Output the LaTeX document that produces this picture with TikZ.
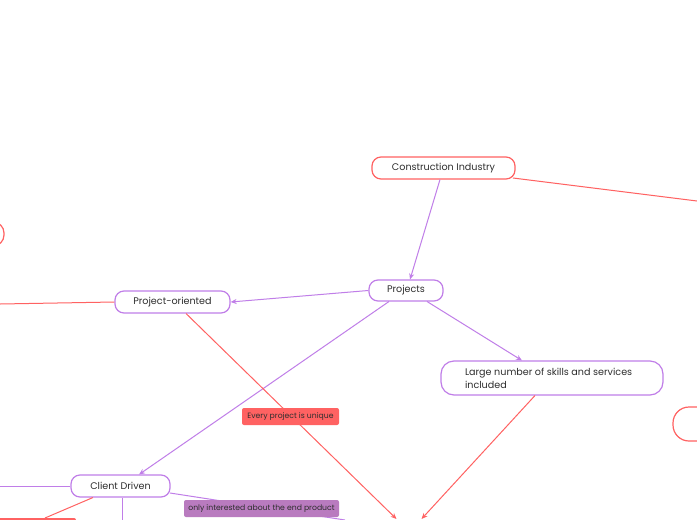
\documentclass[tikz,border=0pt]{standalone}
\usepackage{fontspec}
\setmainfont{Poppins}
\usetikzlibrary{arrows.meta}
\definecolor{redc}{HTML}{FF6262}
\definecolor{purc}{HTML}{C07EE8}
\definecolor{labpur}{HTML}{B97BBF}
\definecolor{txt}{HTML}{2E2E2E}
\tikzset{
  topic/.style={draw=#1, line width=1.2pt, rounded corners=9pt, fill=white, text=txt,
    font=\fontsize{9.6}{13}\selectfont, inner sep=0pt, anchor=center},
  lab/.style={fill=#1, rounded corners=2pt, text=txt, font=\fontsize{7.7}{9}\selectfont,
    inner sep=0pt, minimum height=17pt},
  link/.style={draw=#1, line width=1pt},
  arr/.style={draw=#1, line width=1pt, -{Stealth[length=6pt,width=5pt]}},
}
\newcommand{\dn}[1]{\raisebox{-1.2pt}{#1}}
\begin{document}
\begin{tikzpicture}[x=1pt,y=-1pt]
\useasboundingbox (0,0) rectangle (697,520);
\clip (0,0) rectangle (697,520);
\fill[white] (0,0) rectangle (697,520);
% off-image / partial elements
\node[topic=redc, minimum width=40pt, minimum height=24pt, rounded corners=11pt] (leftn) at (-16,234) {};
\node[topic=redc, minimum width=80pt, minimum height=34pt, rounded corners=16pt] (rightn) at (713,424) {};
\node[fill=redc, minimum width=80pt, minimum height=10pt, inner sep=0pt, rounded corners=2pt] (blrect) at (36,523) {};
\coordinate (ciR) at (697,201);
\coordinate (poL) at (0,304);
\coordinate (cdL) at (0,486);
\coordinate (cdD) at (122,520);
\coordinate (cdR) at (345,520);
\coordinate (t1) at (396.5,519);
\coordinate (t2) at (421.5,519);
% main nodes
\node[topic=redc, minimum width=143pt, minimum height=22pt] (ci) at (443.5,168) {\dn{Construction Industry}};
\node[topic=purc, minimum width=74pt, minimum height=21pt] (pr) at (406,290.5) {\dn{Projects}};
\node[topic=purc, minimum width=115pt, minimum height=22pt] (po) at (172.5,302) {\dn{Project-oriented}};
\node[topic=purc, minimum width=222pt, minimum height=34pt, rounded corners=13pt] (ln) at (552,378)
  {\dn{\parbox{174pt}{\raggedright Large number of skills and services\\included}}};
\node[topic=purc, minimum width=99pt, minimum height=22pt] (cd) at (120.5,486) {\dn{Client Driven}};
% connectors
\draw[link=redc] (513,178) -- (ciR);
\draw[arr=purc] (440,179.5) -- (410,279.5);
\draw[arr=purc] (pr.west) -- (po.east);
\draw[arr=purc] (389,301.5) -- (139,474.5);
\draw[arr=purc] (427,301.5) -- (522,360.5);
\draw[link=redc] (po.west) -- (poL);
\draw[arr=redc] (186,313.5) -- (t1);
\draw[arr=redc] (535,395.5) -- (t2);
\draw[link=purc] (cd.west) -- (cdL);
\draw[link=redc] (93,497.5) -- (45,518);
\draw[link=purc] (122,497.5) -- (cdD);
\draw[link=purc] (170,493) -- (cdR);
% labels
\node[lab=redc, minimum width=97pt] (uniq) at (290.5,416.5) {\dn{Every project is unique}};
\node[lab=labpur, minimum width=155pt] (endp) at (261.5,508.5) {\dn{only interested about the end product}};
\end{tikzpicture}
\end{document}
